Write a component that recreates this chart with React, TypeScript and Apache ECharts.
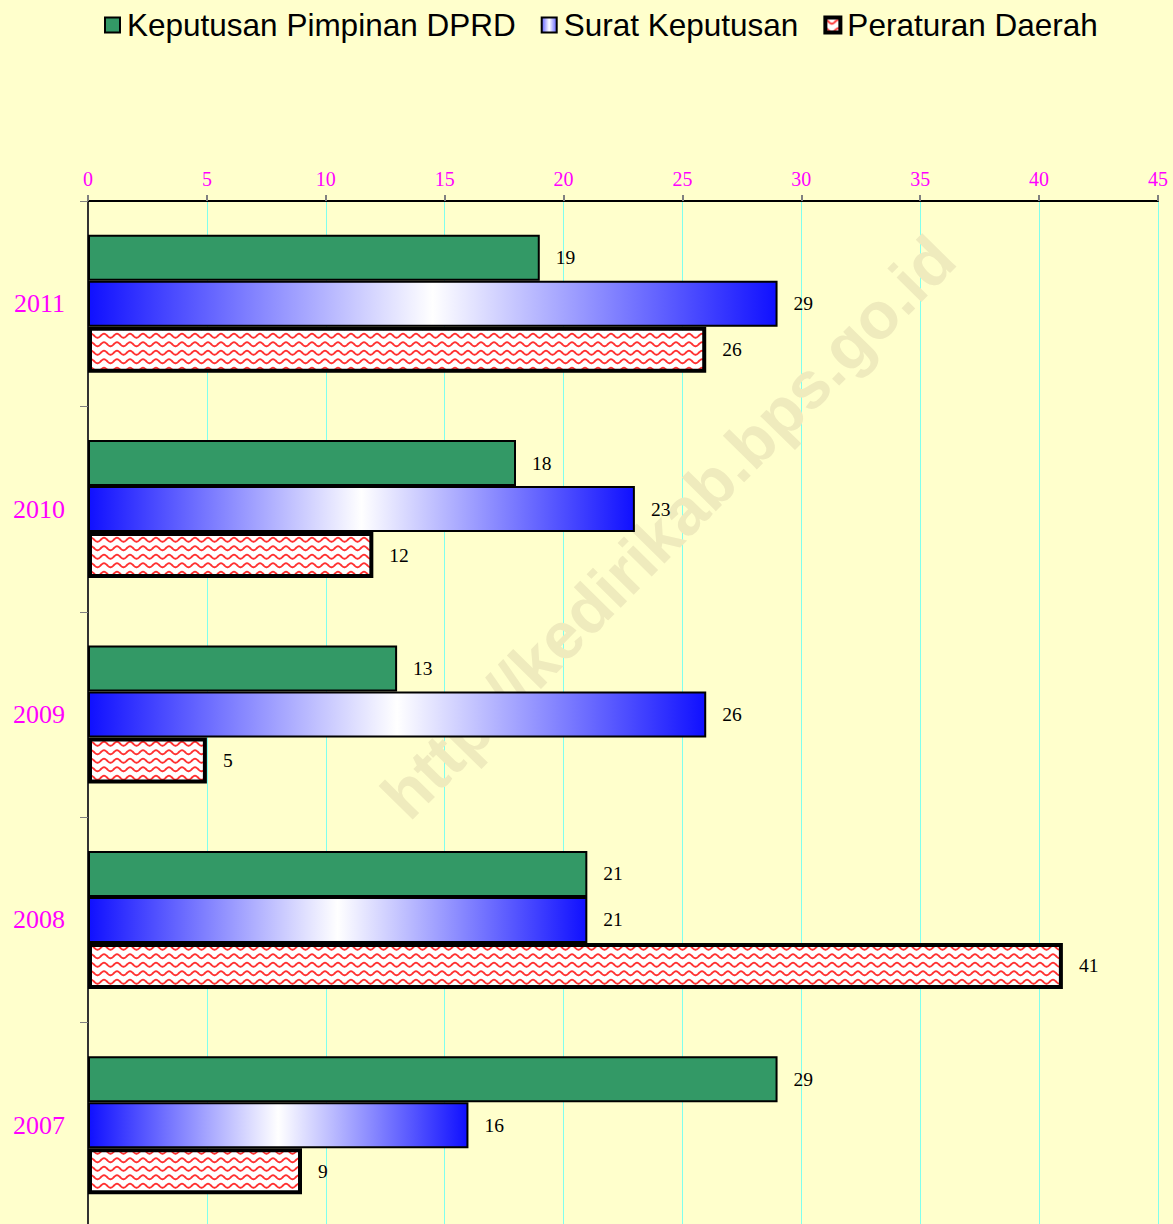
import React, { useEffect, useRef } from "react";
import * as echarts from "echarts";

const years = ["2011", "2010", "2009", "2008", "2007"];
const keputusanPimpinan = [19, 18, 13, 21, 29];
const suratKeputusan = [29, 23, 26, 21, 16];
const peraturanDaerah = [26, 12, 5, 41, 9];
const xTicks = { min: 0, max: 45, interval: 5 };
const seriesNames = ["Keputusan Pimpinan DPRD", "Surat Keputusan", "Peraturan Daerah"];

function makeWavePattern(): HTMLCanvasElement {
  const w = 13;
  const h = 17;
  const c = document.createElement("canvas");
  c.width = w;
  c.height = h;
  const ctx = c.getContext("2d")!;
  ctx.fillStyle = "#ffffff";
  ctx.fillRect(0, 0, w, h);
  ctx.strokeStyle = "#ff3030";
  ctx.lineWidth = 1.8;
  for (const base of [4.25, 12.75]) {
    ctx.beginPath();
    for (let i = 0; i <= 60; i++) {
      const x = -1 + (i * (w + 2)) / 60;
      const y = base - 2 * Math.cos((2 * Math.PI * x) / w);
      if (i === 0) ctx.moveTo(x, y);
      else ctx.lineTo(x, y);
    }
    ctx.stroke();
  }
  return c;
}

export default function App() {
  const ref = useRef<HTMLDivElement>(null);
  useEffect(() => {
    const chart = echarts.init(ref.current!, undefined, { renderer: "svg" });
    const pattern = makeWavePattern();
    const blueGradient = () =>
      new echarts.graphic.LinearGradient(0, 0, 1, 0, [
        { offset: 0, color: "#1010ff" },
        { offset: 0.5, color: "#ffffff" },
        { offset: 1, color: "#1010ff" },
      ]);
    const labelStyle = {
      show: true,
      position: "right" as const,
      distance: 16,
      color: "#000",
      fontFamily: "Liberation Serif",
      fontSize: 19.5,
    };
    chart.setOption({
      animation: false,
      backgroundColor: "#FFFFCC",
      legend: {
        top: 4,
        left: 99,
        itemWidth: 15,
        itemHeight: 15,
        itemGap: 25,
        icon: "rect",
        textStyle: { fontFamily: "Liberation Sans", fontSize: 31.5, color: "#000", padding: [0, 0, 0, 2] },
        data: [
          { name: seriesNames[0], itemStyle: { color: "#339966", borderColor: "#000", borderWidth: 2 } },
          {
            name: seriesNames[1],
            itemStyle: {
              color: new echarts.graphic.LinearGradient(0, 0, 1, 0, [
                { offset: 0, color: "#6060ff" },
                { offset: 0.5, color: "#ffffff" },
                { offset: 1, color: "#6060ff" },
              ]),
              borderColor: "#000",
              borderWidth: 2,
            },
          },
          {
            name: seriesNames[2],
            itemStyle: { color: { image: pattern, repeat: "repeat" }, borderColor: "#000", borderWidth: 4 },
          },
        ],
      },
      grid: { left: 88, width: 1070, top: 201, height: 1027, containLabel: false },
      xAxis: {
        type: "value",
        position: "top",
        min: xTicks.min,
        max: xTicks.max,
        interval: xTicks.interval,
        axisLine: { show: true, lineStyle: { color: "#000", width: 2 } },
        axisTick: { show: true, length: 6, lineStyle: { color: "#808080", width: 2 } },
        axisLabel: { color: "#ff00ff", fontFamily: "Liberation Serif", fontSize: 20, margin: 12 },
        splitLine: { show: true, lineStyle: { color: "#80ffee", width: 1 } },
      },
      yAxis: {
        type: "category",
        inverse: true,
        data: years,
        axisLine: { show: true, lineStyle: { color: "#333", width: 2 } },
        axisTick: { show: true, length: 8, lineStyle: { color: "#808080", width: 1 } },
        axisLabel: { color: "#ff00ff", fontFamily: "Liberation Serif", fontSize: 26, margin: 23 },
        splitLine: { show: false },
      },
      graphic: [
        {
          type: "text",
          x: 668,
          y: 527,
          rotation: (45.5 * Math.PI) / 180,
          z: 1,
          style: {
            text: "http://kedirikab.bps.go.id",
            fontSize: 66,
            fontWeight: "bold",
            fontFamily: "Liberation Sans",
            fill: "#efebbd",
            align: "center",
            verticalAlign: "middle",
          },
        },
      ],
      series: [
        {
          name: seriesNames[0],
          type: "bar",
          data: keputusanPimpinan,
          barWidth: 46,
          barGap: "0%",
          z: 3,
          itemStyle: { color: "#339966", borderColor: "#000", borderWidth: 2 },
          label: labelStyle,
        },
        {
          name: seriesNames[1],
          type: "bar",
          data: suratKeputusan,
          barWidth: 46,
          barGap: "0%",
          z: 3,
          itemStyle: { color: blueGradient(), borderColor: "#000", borderWidth: 2 },
          label: labelStyle,
        },
        {
          name: seriesNames[2],
          type: "bar",
          data: peraturanDaerah,
          barWidth: 46,
          barGap: "0%",
          z: 3,
          itemStyle: {
            color: { image: pattern, repeat: "repeat" },
            borderColor: "#000",
            borderWidth: 4,
          },
          label: labelStyle,
        },
      ],
    });
    return () => chart.dispose();
  }, []);
  return (
    <div
      style={{ position: "absolute", left: 0, top: 0, width: 1173, height: 1224, overflow: "hidden" }}
    >
      <div ref={ref} style={{ width: 1173, height: 1232 }} />
    </div>
  );
}
